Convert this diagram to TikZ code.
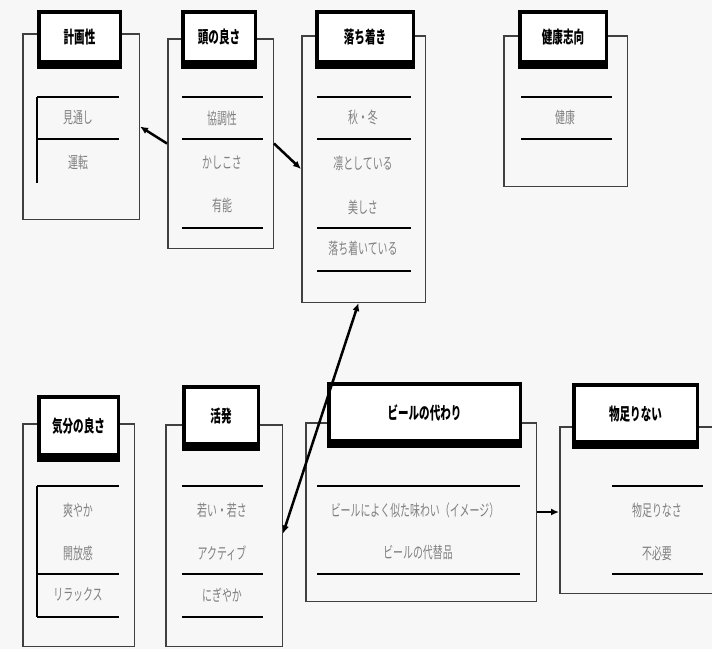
\documentclass[tikz,border=0pt]{standalone}
\usepackage{fontspec}
\newfontfamily\jp[FakeStretch=0.62]{Noto Sans CJK JP}
\usetikzlibrary{arrows.meta}

\tikzset{
  outerbox/.style={draw=black!75, line width=1.5pt, inner sep=0pt},
  head/.style={draw, line width=3.5pt, fill=white, inner sep=0pt, text depth=0.5em,
    font=\jp\bfseries\fontsize{17}{19}\selectfont},
  item/.style={text=black!50, inner sep=1pt, font=\jp\fontsize{16}{18}\selectfont},
  sep/.style={line width=1.2pt},
  arr/.style={line width=2.5pt, -{Latex[length=8pt,width=7pt]}},
}
\newcommand{\headband}[1]{\fill ([yshift=-0.5pt]#1.south west) rectangle ([yshift=8pt]#1.south east);}

\begin{document}
\begin{tikzpicture}[x=1pt,y=-1pt]
  \useasboundingbox[fill=black!3] (0,0) rectangle (712,649);

  % 計画性
  \node[outerbox, minimum width=116.5pt, minimum height=185.5pt] (keikaku) at (81,126.5) {};
  \node[head, minimum width=81.5pt, minimum height=54.5pt] (hkeikaku) at (79.5,39) {計画性};
  \headband{hkeikaku}
  \foreach \y in {97,139} \draw[sep] (37,\y) -- (119,\y);
  \draw[sep] (37,97) -- (37,183);
  \node[item] (keikaku1) at (78,118) {見通し};
  \node[item] (keikaku2) at (78,162) {運転};

  % 頭の良さ
  \node[outerbox, minimum width=105.5pt, minimum height=209.5pt] (atama) at (220.5,143.5) {};
  \node[head, minimum width=72.5pt, minimum height=54.5pt] (hatama) at (219,39) {頭の良さ};
  \headband{hatama}
  \foreach \y in {97,139,228} \draw[sep] (182,\y) -- (263,\y);
  \node[item] (atama1) at (222,118) {協調性};
  \node[item] (atama2) at (222,163) {かしこさ};
  \node[item] (atama3) at (222,205) {有能};

  % 落ち着き
  \node[outerbox, minimum width=123.5pt, minimum height=266.5pt] (ochi) at (363.5,169) {};
  \node[head, minimum width=96.5pt, minimum height=54.5pt] (hochi) at (365,39) {落ち着き};
  \headband{hochi}
  \foreach \y in {97,139,228,271} \draw[sep] (317,\y) -- (411,\y);
  \node[item] (ochi1) at (363,117) {秋・冬};
  \node[item] (ochi2) at (363,163) {凛としている};
  \node[item] (ochi3) at (363,207) {美しさ};
  \node[item] (ochi4) at (363,248) {落ち着いている};

  % 健康志向
  \node[outerbox, minimum width=123.5pt, minimum height=150.5pt] (kenko) at (565.5,111) {};
  \node[head, minimum width=86.5pt, minimum height=54.5pt] (hkenko) at (563,39) {健康志向};
  \headband{hkenko}
  \foreach \y in {97,139} \draw[sep] (521,\y) -- (612,\y);
  \node[item] (kenko1) at (565,117) {健康};

  % 気分の良さ
  \node[outerbox, minimum width=111.5pt, minimum height=222.5pt] (kibun) at (78.5,535) {};
  \node[head, minimum width=79.5pt, minimum height=62.5pt] (hkibun) at (78.5,428) {気分の良さ};
  \headband{hkibun}
  \foreach \y in {486,574,617} \draw[sep] (37,\y) -- (119,\y);
  \draw[sep] (37,486) -- (37,617);
  \node[item] (kibun1) at (78,510) {爽やか};
  \node[item] (kibun2) at (78,553) {開放感};
  \node[item] (kibun3) at (78,595) {リラックス};

  % 活発
  \node[outerbox, minimum width=116.5pt, minimum height=221.5pt] (kappatsu) at (224,535.5) {};
  \node[head, minimum width=74.5pt, minimum height=61.5pt] (hkappatsu) at (221,417.5) {活発};
  \headband{hkappatsu}
  \foreach \y in {486,574,617} \draw[sep] (182,\y) -- (263,\y);
  \node[item] (kappatsu1) at (222,510) {若い・若さ};
  \node[item] (kappatsu2) at (222,553) {アクティブ};
  \node[item] (kappatsu3) at (222,595) {にぎやか};

  % ビールの代わり
  \node[outerbox, minimum width=230.5pt, minimum height=178.5pt] (beer) at (421,512) {};
  \node[head, minimum width=191.5pt, minimum height=61.5pt] (hbeer) at (424.5,414.5) {ビールの代わり};
  \headband{hbeer}
  \foreach \y in {486,574} \draw[sep] (317,\y) -- (520,\y);
  \node[item] (beer1) at (415,510) {ビールによく似た味わい（イメージ）};
  \node[item] (beer2) at (418,552) {ビールの代替品};

  % 物足りない
  \node[outerbox, minimum width=155.5pt, minimum height=166.5pt] (tari) at (637.5,510) {};
  \node[head, minimum width=123.5pt, minimum height=61.5pt] (htari) at (635.5,415.5) {物足りない};
  \headband{htari}
  \foreach \y in {486,574} \draw[sep] (612,\y) -- (703,\y);
  \node[item] (tari1) at (657,510) {物足りなさ};
  \node[item] (tari2) at (657,553) {不必要};

  % connectors
  \draw[arr] (atama.west) -- (keikaku.east);
  \draw[arr] (atama.east) -- (ochi.west);
  \draw[arr, {Latex[length=8pt,width=7pt]}-{Latex[length=8pt,width=7pt]}] ([xshift=-5pt]ochi.south) -- ([yshift=2pt]kappatsu.east);
  \draw[arr] (beer.east) -- (beer.east -| tari.west);
\end{tikzpicture}
\end{document}
